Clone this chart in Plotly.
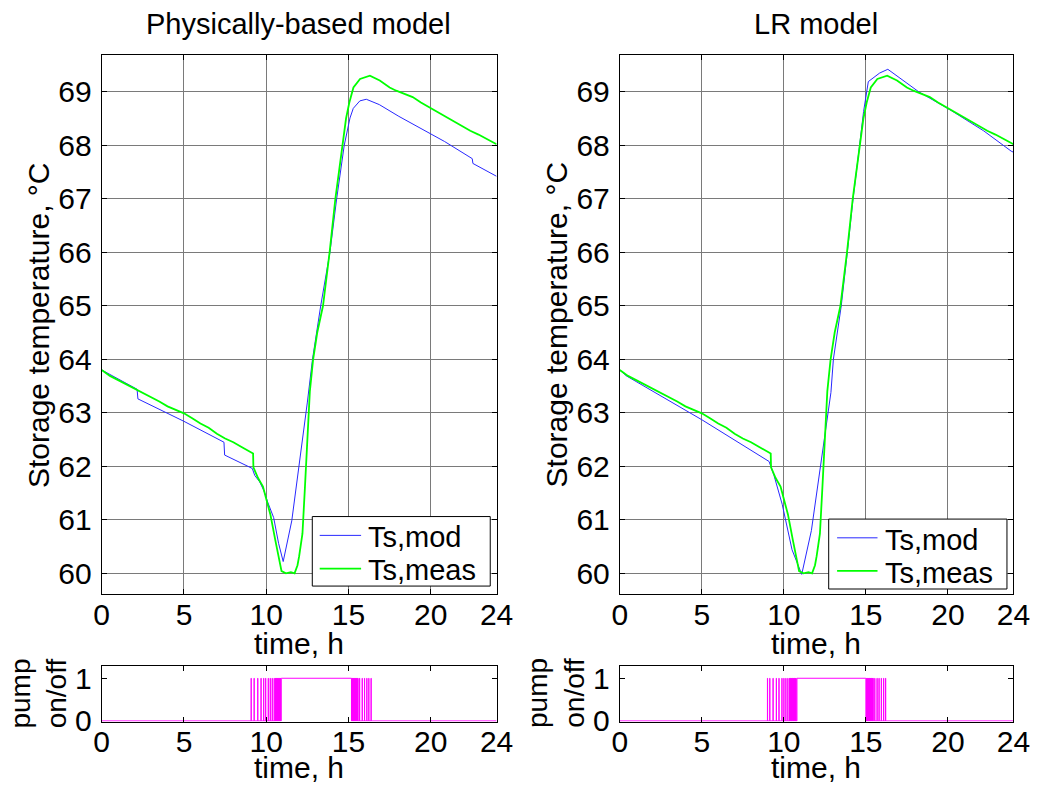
import plotly.graph_objects as go

# ---------------- data ----------------
# Measured storage temperature (same record in both panels), hours / deg C
meas_t = [0.0, 0.5, 1.0, 1.5, 2.0, 2.5, 3.0, 3.5, 4.0, 4.5, 5.0, 5.5, 6.0, 6.5, 7.0,
          7.5, 8.0, 8.5, 9.0, 9.2, 9.22, 9.5, 9.8, 10.0, 10.25, 10.55, 10.8, 10.93,
          11.2, 11.5, 11.72, 11.9, 12.0, 12.2, 12.35, 12.5, 12.65, 12.85, 13.1, 13.45,
          13.85, 14.2, 14.65, 14.85, 15.05, 15.3, 15.7, 16.3, 16.9, 17.5, 17.9, 18.4,
          18.9, 19.4, 19.9, 20.4, 20.9, 21.4, 21.9, 22.4, 22.9, 23.4, 24.0]
meas_T = [63.80, 63.69, 63.61, 63.53, 63.46, 63.38, 63.30, 63.21, 63.12, 63.06, 62.99,
          62.90, 62.80, 62.72, 62.61, 62.52, 62.45, 62.36, 62.27, 62.24, 61.98, 61.78,
          61.62, 61.40, 61.10, 60.62, 60.25, 60.04, 60.00, 60.02, 60.00, 60.15, 60.32,
          60.74, 61.60, 62.50, 63.40, 64.00, 64.50, 65.00, 66.00, 67.00, 68.00, 68.50,
          68.80, 69.08, 69.24, 69.30, 69.21, 69.08, 69.02, 68.96, 68.90, 68.80, 68.71,
          68.62, 68.53, 68.44, 68.35, 68.27, 68.20, 68.12, 68.02]

# Physically-based model output
phys_t = [0.0, 2.15, 2.2, 5.0, 7.43, 7.47, 9.15, 9.3, 9.6, 9.85, 10.1, 10.45, 10.75,
          11.03, 11.55, 12.0, 12.5, 12.81, 13.31, 13.87, 14.28, 14.74, 15.09, 15.29,
          15.69, 16.08, 16.87, 18.06, 19.85, 20.84, 22.52, 22.56, 24.0]
phys_T = [63.80, 63.44, 63.26, 62.84, 62.45, 62.21, 61.96, 61.83, 61.71, 61.55, 61.32,
          61.04, 60.56, 60.22, 60.98, 62.00, 63.20, 64.00, 65.00, 66.00, 67.00, 68.00,
          68.51, 68.69, 68.83, 68.86, 68.76, 68.54, 68.24, 68.07, 67.75, 67.66, 67.42]

# LR model output
lr_t = [0.0, 0.4, 5.0, 9.1, 9.4, 9.9, 10.5, 11.09, 11.68, 12.28, 12.87, 13.02, 13.5,
        13.87, 14.22, 14.62, 14.86, 15.15, 15.84, 16.34, 18.22, 20.2, 22.18, 23.86, 24.0]
lr_T = [63.80, 63.69, 62.87, 62.09, 61.83, 61.29, 60.44, 59.98, 60.80, 62.08, 63.38,
        64.00, 65.00, 66.00, 67.00, 68.00, 68.63, 69.19, 69.35, 69.42, 69.00, 68.65,
        68.27, 67.89, 67.87]

# Pump switching: [on, off] intervals in hours
pump_phys_on = [[9.08, 9.09], [9.26, 9.27], [9.48, 9.49], [9.68, 9.69], [9.84, 9.85],
                [9.96, 9.97], [10.12, 10.13], [10.24, 10.25], [10.36, 10.37],
                [10.48, 10.49], [10.55, 10.56], [10.59, 10.60], [10.63, 10.64],
                [10.67, 10.68], [10.71, 10.72], [10.75, 10.76], [10.79, 10.80],
                [10.83, 10.84], [10.87, 10.88], [10.91, 15.18], [15.21, 15.22],
                [15.25, 15.26], [15.29, 15.30], [15.33, 15.34], [15.37, 15.38],
                [15.41, 15.42], [15.45, 15.46], [15.49, 15.50], [15.53, 15.54],
                [15.57, 15.58], [15.67, 15.68], [15.83, 15.84], [15.97, 15.98],
                [16.11, 16.12], [16.23, 16.24], [16.37, 16.38]]
pump_lr_on = [[9.00, 9.01], [9.14, 9.15], [9.34, 9.35], [9.54, 9.55], [9.70, 9.71],
              [9.88, 9.89], [10.00, 10.01], [10.12, 10.13], [10.24, 10.25],
              [10.34, 10.35], [10.38, 10.39], [10.42, 10.43], [10.46, 10.47],
              [10.50, 10.51], [10.54, 10.55], [10.58, 10.59], [10.62, 10.63],
              [10.66, 10.67], [10.70, 10.71], [10.74, 10.75], [10.80, 15.00],
              [15.04, 15.05], [15.08, 15.09], [15.12, 15.13], [15.16, 15.17],
              [15.20, 15.21], [15.24, 15.25], [15.28, 15.29], [15.32, 15.33],
              [15.36, 15.37], [15.40, 15.41], [15.44, 15.45], [15.54, 15.55],
              [15.68, 15.69], [15.80, 15.81], [15.94, 15.95], [16.08, 16.09],
              [16.20, 16.21]]

time_ticks = [0, 5, 10, 15, 20, 24]
temp_ticks = [60, 61, 62, 63, 64, 65, 66, 67, 68, 69]
pump_ticks = [0, 1]
legend_names = ["Ts,mod", "Ts,meas"]


def step_signal(intervals, t_end=24.0):
    """Turn on/off intervals into a rectangular 0/1 signal."""
    xs, ys = [0.0], [0]
    for a, b in intervals:
        xs += [a, a, b, b]
        ys += [0, 1, 1, 0]
    xs.append(t_end)
    ys.append(0)
    return xs, ys


W, H = 1051, 800
FONT = "Liberation Sans, Arial, sans-serif"
BLUE = "rgb(40,40,255)"
GREEN = "rgb(0,255,0)"
MAGENTA = "rgb(255,0,255)"
COLORS = [BLUE, GREEN]
WIDTHS = [1, 1.8]


def px2x(p):
    return p / W


def px2y(p):
    return 1 - p / H


fig = go.Figure()

# temperature panels
for xa, ya, model_t, model_T in [("x", "y", phys_t, phys_T), ("x2", "y2", lr_t, lr_T)]:
    fig.add_trace(go.Scatter(x=model_t, y=model_T, mode="lines", name=legend_names[0],
                             line=dict(color=COLORS[0], width=WIDTHS[0]),
                             xaxis=xa, yaxis=ya, showlegend=False))
    fig.add_trace(go.Scatter(x=meas_t, y=meas_T, mode="lines", name=legend_names[1],
                             line=dict(color=COLORS[1], width=WIDTHS[1]),
                             xaxis=xa, yaxis=ya, showlegend=False))

# pump panels
for xa, ya, intervals in [("x3", "y3", pump_phys_on), ("x4", "y4", pump_lr_on)]:
    px_, py_ = step_signal(intervals)
    fig.add_trace(go.Scatter(x=px_, y=py_, mode="lines", showlegend=False,
                             line=dict(color=MAGENTA, width=1), xaxis=xa, yaxis=ya))

TICK = dict(family=FONT, size=30, color="black")
axis_common = dict(showline=True, linecolor="black", linewidth=1, mirror="ticks",
                   ticks="inside", ticklen=5, tickcolor="black", zeroline=False,
                   tickfont=TICK)
grid = dict(showgrid=True, gridcolor="#7a7a7a", gridwidth=1)

left_dom = [px2x(96), px2x(500.5)]
right_dom = [px2x(626.7), px2x(1030)]
top_dom = [px2y(605.3), px2y(52.7)]
bot_dom = [px2y(736), px2y(679.3)]

fig.update_layout(
    width=W, height=H, margin=dict(l=0, r=0, t=0, b=0),
    paper_bgcolor="white", plot_bgcolor="white",
    font=dict(family=FONT, size=30, color="black"),
    showlegend=False,
    xaxis=dict(domain=left_dom, anchor="y", range=[0, 24], tickvals=time_ticks,
               ticklabelstandoff=-6, **grid, **axis_common),
    yaxis=dict(domain=top_dom, anchor="x", range=[59.61, 69.68], tickvals=temp_ticks,
               ticklabelstandoff=3, **grid, **axis_common),
    xaxis2=dict(domain=right_dom, anchor="y2", range=[0, 24], tickvals=time_ticks,
                ticklabelstandoff=-6, **grid, **axis_common),
    yaxis2=dict(domain=top_dom, anchor="x2", range=[59.61, 69.68], tickvals=temp_ticks,
                ticklabelstandoff=3, **grid, **axis_common),
    xaxis3=dict(domain=left_dom, anchor="y3", range=[0, 24], tickvals=time_ticks,
                ticklabelstandoff=-7, showgrid=False, **axis_common),
    yaxis3=dict(domain=bot_dom, anchor="x3", range=[-0.016, 1.28], tickvals=pump_ticks,
                ticklabelstandoff=3, showgrid=False, **axis_common),
    xaxis4=dict(domain=right_dom, anchor="y4", range=[0, 24], tickvals=time_ticks,
                ticklabelstandoff=-7, showgrid=False, **axis_common),
    yaxis4=dict(domain=bot_dom, anchor="x4", range=[-0.016, 1.28], tickvals=pump_ticks,
                ticklabelstandoff=3, showgrid=False, **axis_common),
)

# legend boxes: (box left, top, right, bottom, key x0, key x1, text x, row ys)
legend_boxes = [
    (311.7, 525.7, 494.0, 597.0, 319.3, 361.7, 366.7, [545.0, 579.0]),
    (840.7, 528.3, 1023.3, 600.0, 849.3, 890.7, 896.7, [547.5, 581.5]),
]
for bx0, by0, bx1, by1, kx0, kx1, tx, rows in legend_boxes:
    fig.add_shape(type="rect", xref="paper", yref="paper",
                  x0=px2x(bx0), x1=px2x(bx1), y0=px2y(by1), y1=px2y(by0),
                  line=dict(color="black", width=1), fillcolor="white", layer="above")
    for name, color, width, ry in zip(legend_names, COLORS, WIDTHS, rows):
        fig.add_shape(type="line", xref="paper", yref="paper",
                      x0=px2x(kx0), x1=px2x(kx1), y0=px2y(ry), y1=px2y(ry),
                      line=dict(color=color, width=width), layer="above")
        fig.add_annotation(text=name, x=px2x(tx), y=px2y(ry + 2), xref="paper",
                           yref="paper", xanchor="left", yanchor="middle",
                           showarrow=False, font=dict(family=FONT, size=29, color="black"))

# titles and axis labels
texts = [
    ("Physically-based model", 298, 21, 0, 29),
    ("LR model", 828, 21, 0, 29),
    ("time, h", 298, 656, 0, 30),
    ("time, h", 828, 656, 0, 30),
    ("time, h", 298, 783, 0, 30),
    ("time, h", 828, 783, 0, 30),
    ("Storage temperature, °C", 32, 329, -90, 30),
    ("Storage temperature, °C", 562, 329, -90, 30),
    ("pump<br>on/off", 31, 707, -90, 28),
    ("pump<br>on/off", 561, 707, -90, 28),
]
for txt, x, y, ang, fs in texts:
    fig.add_annotation(text=txt, x=px2x(x), y=px2y(y), xref="paper", yref="paper",
                       xanchor="center", yanchor="middle", showarrow=False,
                       textangle=ang, font=dict(family=FONT, size=fs, color="black"))

fig.write_html("out.html")
